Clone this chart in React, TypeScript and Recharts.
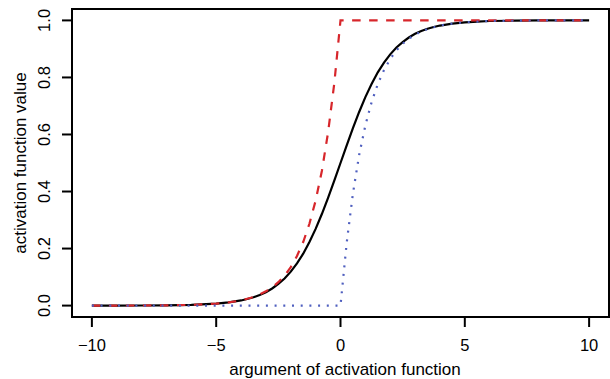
import React from "react";
import { LineChart, Line, XAxis, YAxis, ReferenceArea } from "recharts";

const xValues = [-10, -9, -8, -7, -6, -5, -4.5, -4, -3.75, -3.5, -3.25, -3, -2.75, -2.5, -2.25, -2, -1.75, -1.5, -1.25, -1, -0.75, -0.5, -0.25, 0, 0.25, 0.5, 0.75, 1, 1.25, 1.5, 1.75, 2, 2.25, 2.5, 2.75, 3, 3.25, 3.5, 3.75, 4, 4.5, 5, 5.5, 6, 7, 8, 9, 10];

const logisticValues = [0.0, 0.0001, 0.0003, 0.0009, 0.0025, 0.0067, 0.011, 0.018, 0.023, 0.029, 0.037, 0.047, 0.06, 0.076, 0.095, 0.119, 0.148, 0.182, 0.223, 0.269, 0.321, 0.378, 0.438, 0.5, 0.562, 0.622, 0.679, 0.731, 0.777, 0.818, 0.852, 0.881, 0.905, 0.924, 0.94, 0.953, 0.963, 0.971, 0.977, 0.982, 0.989, 0.993, 0.996, 0.998, 0.999, 1.0, 1.0, 1.0];

const expCapValues = [0.0, 0.0001, 0.0003, 0.0009, 0.0025, 0.0067, 0.011, 0.018, 0.024, 0.03, 0.039, 0.05, 0.064, 0.082, 0.105, 0.135, 0.174, 0.223, 0.287, 0.368, 0.472, 0.607, 0.779, 1.0, 1.0, 1.0, 1.0, 1.0, 1.0, 1.0, 1.0, 1.0, 1.0, 1.0, 1.0, 1.0, 1.0, 1.0, 1.0, 1.0, 1.0, 1.0, 1.0, 1.0, 1.0, 1.0, 1.0, 1.0];

const expRiseValues = [0, 0, 0, 0, 0, 0, 0, 0, 0, 0, 0, 0, 0, 0, 0, 0, 0, 0, 0, 0, 0, 0, 0, 0, 0.221, 0.393, 0.528, 0.632, 0.713, 0.777, 0.826, 0.865, 0.895, 0.918, 0.936, 0.95, 0.961, 0.97, 0.976, 0.982, 0.989, 0.993, 0.996, 0.998, 0.999, 1.0, 1.0, 1.0];

const xTicks = [-10, -5, 0, 5, 10];
const yTicks = [0, 0.2, 0.4, 0.6, 0.8, 1.0];

const data = xValues.map((x, i) => ({
  x,
  logistic: logisticValues[i],
  expCap: expCapValues[i],
  expRise: expRiseValues[i],
}));

const FONT = "'Liberation Sans', Arial, sans-serif";
const TICK_FS = 16.5;
const LABEL_FS = 17;

const fmtX = (v: number) => (v < 0 ? "\u2212" + Math.abs(v) : String(v));

const XTick = (props: any) => {
  const { x, payload } = props;
  return (
    <text x={x} y={345} textAnchor="middle" dominantBaseline="central" fontFamily={FONT} fontSize={TICK_FS} fill="#000">
      {fmtX(payload.value)}
    </text>
  );
};

const YTick = (props: any) => {
  const { y, payload } = props;
  return (
    <text
      x={44}
      y={y}
      transform={`rotate(-90, 44, ${y})`}
      textAnchor="middle"
      dominantBaseline="central"
      fontFamily={FONT}
      fontSize={TICK_FS}
      fill="#000"
    >
      {payload.value.toFixed(1)}
    </text>
  );
};

export default function App() {
  return (
    <div style={{ width: 610, height: 379, background: "#fff" }}>
      <style>{"body{margin:0;}"}</style>
      <LineChart width={610} height={379} data={data} margin={{ top: 9, right: 1, bottom: 0, left: 0 }}>
        <XAxis
          dataKey="x"
          type="number"
          domain={[-10.8, 10.8]}
          ticks={xTicks}
          axisLine={false}
          tickLine={{ stroke: "#000", strokeWidth: 2 }}
          tickSize={10}
          height={62}
          tick={<XTick />}
          interval={0}
          allowDataOverflow
        />
        <YAxis
          type="number"
          domain={[-0.04, 1.04]}
          ticks={yTicks}
          axisLine={false}
          tickLine={{ stroke: "#000", strokeWidth: 2 }}
          tickSize={10}
          width={72}
          tick={<YTick />}
          interval={0}
          allowDataOverflow
        />
        <ReferenceArea x1={-10.8} x2={10.8} y1={-0.04} y2={1.04} fill="none" stroke="#000" strokeWidth={2} ifOverflow="visible" />
        <Line dataKey="logistic" type="linear" stroke="#000" strokeWidth={2.2} dot={false} activeDot={false} isAnimationActive={false} />
        <Line dataKey="expCap" type="linear" stroke="#d7262b" strokeWidth={2.2} strokeDasharray="8.5 8.5" dot={false} activeDot={false} isAnimationActive={false} />
        <Line dataKey="expRise" type="linear" stroke="#4f5fbf" strokeWidth={2.2} strokeDasharray="2 6.7" dot={false} activeDot={false} isAnimationActive={false} />
        <text x={20} y={163} transform="rotate(-90, 20, 163)" textAnchor="middle" dominantBaseline="central" fontFamily={FONT} fontSize={LABEL_FS} fill="#000">
          activation function value
        </text>
        <text x={345} y={369} textAnchor="middle" dominantBaseline="central" fontFamily={FONT} fontSize={LABEL_FS} fill="#000">
          argument of activation function
        </text>
      </LineChart>
    </div>
  );
}
